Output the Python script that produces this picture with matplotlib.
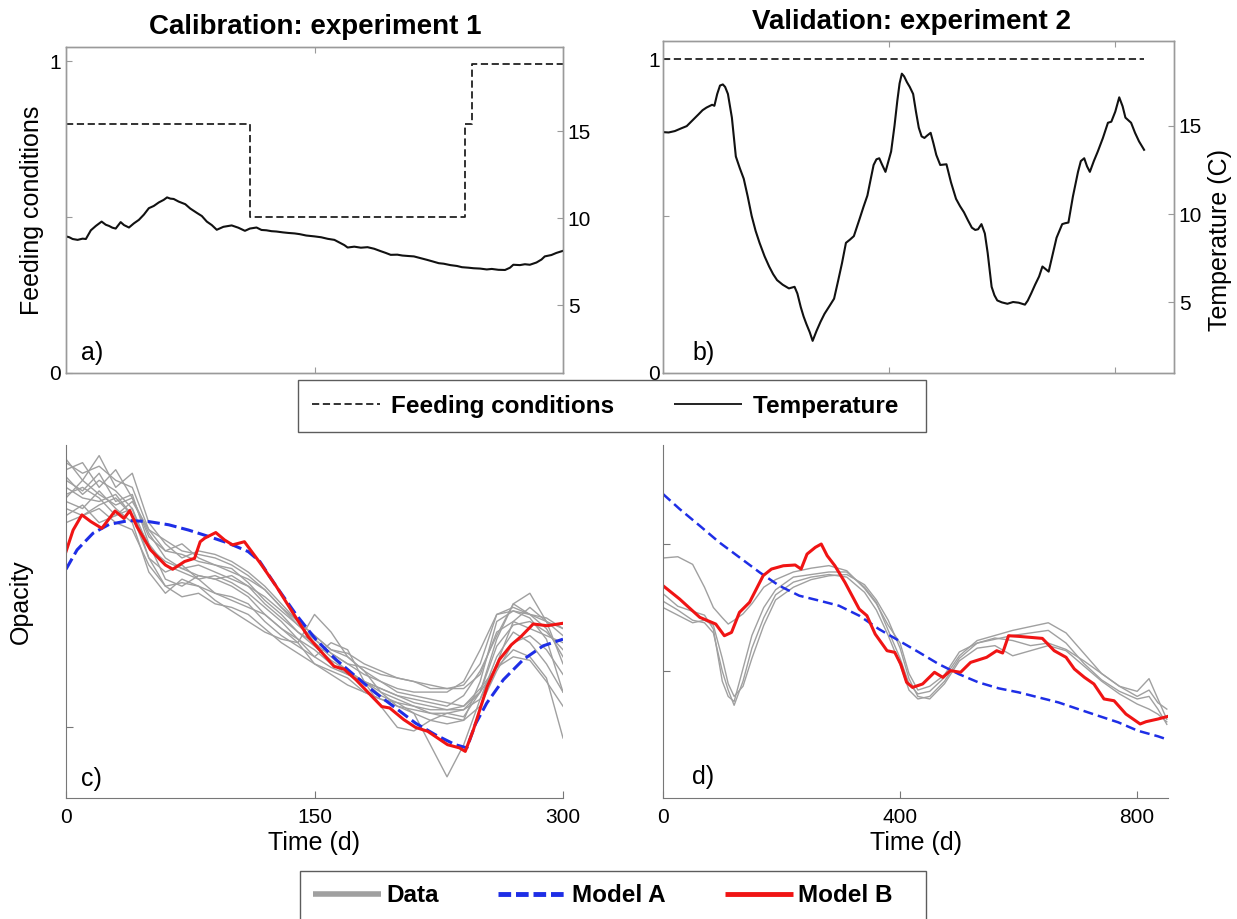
import matplotlib
matplotlib.use("Agg")
import matplotlib.pyplot as plt
from matplotlib.lines import Line2D

plt.rcParams['font.family'] = ['Liberation Sans', 'DejaVu Sans']

# ---------------- data ----------------
# Panel a (calibration, experiment 1)
feed_a_days = [0, 111, 111, 241, 241, 245, 245, 300]
feed_a_vals = [0.80, 0.80, 0.50, 0.50, 0.80, 0.80, 0.99, 0.99]
temp_a_days = [0, 2, 4, 7, 10, 12, 15, 18, 21.5, 24, 26, 28, 30, 33, 35, 38, 41, 44, 47, 50, 53,
               56, 59, 61, 63, 65, 68, 72, 75, 79, 82, 85, 88, 91, 95, 100, 104, 108, 111, 115,
               118, 121, 124, 127, 131, 134, 138, 141, 145, 150, 154, 158, 162, 165, 168, 170,
               174, 178, 182, 186, 190, 193, 196, 200, 203, 207, 210, 214, 218, 221, 225, 228,
               232, 236, 239, 243, 246, 250, 254, 257, 261, 265, 268, 270, 274, 277, 280, 284,
               287, 289, 293, 296, 300]
temp_a_vals = [8.95, 8.9, 8.8, 8.75, 8.82, 8.8, 9.3, 9.55, 9.8, 9.62, 9.55, 9.45, 9.4, 9.77,
               9.6, 9.46, 9.7, 9.9, 10.2, 10.57, 10.7, 10.9, 11.05, 11.19, 11.12, 11.1, 10.95,
               10.8, 10.55, 10.3, 10.12, 9.8, 9.6, 9.33, 9.5, 9.58, 9.45, 9.27, 9.4, 9.46,
               9.32, 9.3, 9.25, 9.23, 9.18, 9.15, 9.12, 9.08, 9.0, 8.95, 8.9, 8.81, 8.75, 8.6,
               8.45, 8.31, 8.36, 8.3, 8.33, 8.24, 8.1, 8.0, 7.89, 7.9, 7.85, 7.82, 7.8, 7.7,
               7.6, 7.52, 7.41, 7.38, 7.3, 7.25, 7.18, 7.15, 7.12, 7.1, 7.05, 7.08, 7.03, 7.02,
               7.15, 7.32, 7.3, 7.35, 7.32, 7.45, 7.62, 7.8, 7.88, 8.0, 8.12]

# Panel b (validation, experiment 2)
feed_b_days = [0, 852]
feed_b_vals = [1.0, 1.0]
temp_b_days = [0, 10, 21, 32, 42, 52, 63, 70, 77, 87, 91, 96, 101, 106, 110, 115, 122, 129, 136,
               143, 150, 157, 164, 171, 180, 188, 195, 202, 212, 223, 233, 238, 244, 249, 254,
               260, 265, 272, 279, 286, 295, 303, 310, 317, 324, 331, 338, 348, 355, 362, 368,
               373, 378, 383, 388, 394, 404, 410, 415, 419, 423, 427, 432, 437, 443, 448, 453,
               458, 463, 468, 474, 479, 484, 491, 502, 510, 519, 526, 533, 540, 547, 553, 558,
               564, 570, 575, 579, 582, 587, 592, 600, 610, 620, 630, 641, 646, 652, 659, 666,
               672, 677, 683, 690, 697, 707, 712, 718, 726, 735, 740, 746, 751, 756, 763, 770,
               779, 788, 794, 801, 808, 814, 819, 829, 836, 843, 852]
temp_b_vals = [14.64, 14.62, 14.7, 14.85, 14.98, 15.3, 15.65, 15.88, 16.03, 16.19, 16.13, 16.8,
               17.28, 17.34, 17.2, 16.8, 15.46, 13.26, 12.6, 12.0, 11.0, 9.9, 9.05, 8.37, 7.6,
               7.03, 6.6, 6.26, 6.0, 5.79, 5.88, 5.5, 4.73, 4.2, 3.77, 3.3, 2.82, 3.39, 3.9,
               4.35, 4.8, 5.21, 6.2, 7.22, 8.37, 8.55, 8.75, 9.71, 10.4, 11.05, 12.0, 12.78,
               13.1, 13.16, 12.8, 12.39, 13.54, 15.0, 16.42, 17.4, 17.95, 17.8, 17.47, 17.2,
               16.8, 15.8, 14.89, 14.4, 14.31, 14.45, 14.6, 14.0, 13.35, 12.78, 12.82, 11.8,
               10.86, 10.45, 10.1, 9.65, 9.23, 9.1, 9.14, 9.43, 8.9, 7.8, 6.7, 5.88, 5.4, 5.11,
               5.0, 4.92, 5.02, 4.98, 4.87, 5.1, 5.5, 6.0, 6.46, 7.03, 6.9, 6.74, 7.7, 8.66,
               9.43, 9.48, 9.52, 11.0, 12.39, 13.0, 13.16, 12.7, 12.39, 13.0, 13.54, 14.3,
               15.17, 15.23, 15.8, 16.61, 16.1, 15.46, 15.17, 14.6, 14.12, 13.64]

# Panel c (opacity, calibration)
c_days = [0, 10, 20, 30, 40, 50, 60, 70, 80, 90, 100, 110, 120, 130, 140, 150, 160, 170, 180,
          190, 200, 210, 220, 230, 240, 250, 260, 270, 280, 290, 300]
c_data = [
    [0.96, 0.90, 0.97, 0.88, 0.92, 0.78, 0.72, 0.68, 0.70, 0.69, 0.67, 0.64, 0.60, 0.55, 0.50, 0.46, 0.42, 0.40, 0.36, 0.33, 0.30, 0.29, 0.28, 0.27, 0.26, 0.30, 0.45, 0.55, 0.52, 0.48, 0.40],
    [0.93, 0.95, 0.88, 0.93, 0.85, 0.74, 0.70, 0.72, 0.68, 0.66, 0.65, 0.61, 0.56, 0.52, 0.47, 0.44, 0.40, 0.36, 0.33, 0.31, 0.29, 0.27, 0.26, 0.25, 0.25, 0.28, 0.38, 0.50, 0.54, 0.50, 0.46],
    [0.90, 0.87, 0.92, 0.84, 0.86, 0.72, 0.62, 0.60, 0.63, 0.62, 0.60, 0.57, 0.52, 0.48, 0.45, 0.42, 0.38, 0.35, 0.33, 0.30, 0.28, 0.26, 0.24, 0.23, 0.22, 0.33, 0.50, 0.53, 0.51, 0.45, 0.30],
    [0.88, 0.85, 0.84, 0.86, 0.80, 0.68, 0.64, 0.66, 0.62, 0.58, 0.56, 0.54, 0.52, 0.48, 0.44, 0.38, 0.36, 0.34, 0.30, 0.28, 0.26, 0.25, 0.24, 0.24, 0.23, 0.30, 0.43, 0.49, 0.50, 0.47, 0.42],
    [0.86, 0.88, 0.85, 0.80, 0.84, 0.76, 0.70, 0.69, 0.67, 0.66, 0.64, 0.62, 0.59, 0.54, 0.49, 0.45, 0.41, 0.38, 0.35, 0.33, 0.31, 0.30, 0.30, 0.30, 0.33, 0.42, 0.52, 0.53, 0.52, 0.50, 0.48],
    [0.84, 0.82, 0.87, 0.82, 0.78, 0.64, 0.58, 0.62, 0.60, 0.56, 0.53, 0.50, 0.47, 0.45, 0.44, 0.52, 0.47, 0.40, 0.36, 0.30, 0.26, 0.24, 0.22, 0.21, 0.22, 0.26, 0.36, 0.44, 0.46, 0.42, 0.35],
    [0.82, 0.80, 0.83, 0.85, 0.80, 0.72, 0.66, 0.64, 0.62, 0.63, 0.61, 0.58, 0.54, 0.50, 0.45, 0.40, 0.37, 0.35, 0.33, 0.29, 0.27, 0.24, 0.15, 0.06, 0.15, 0.28, 0.40, 0.47, 0.44, 0.38, 0.30],
    [0.80, 0.83, 0.78, 0.80, 0.82, 0.68, 0.60, 0.57, 0.58, 0.55, 0.54, 0.52, 0.48, 0.44, 0.41, 0.38, 0.35, 0.32, 0.30, 0.28, 0.27, 0.26, 0.25, 0.25, 0.26, 0.31, 0.37, 0.40, 0.39, 0.33, 0.26],
    [0.78, 0.80, 0.82, 0.78, 0.76, 0.66, 0.60, 0.61, 0.60, 0.58, 0.57, 0.55, 0.50, 0.46, 0.43, 0.40, 0.44, 0.42, 0.33, 0.26, 0.20, 0.19, 0.22, 0.24, 0.25, 0.30, 0.37, 0.42, 0.40, 0.34, 0.17],
    [0.91, 0.86, 0.90, 0.87, 0.82, 0.71, 0.67, 0.65, 0.66, 0.64, 0.62, 0.60, 0.57, 0.53, 0.49, 0.45, 0.41, 0.38, 0.37, 0.35, 0.34, 0.33, 0.32, 0.31, 0.31, 0.35, 0.47, 0.50, 0.48, 0.46, 0.44],
    [0.85, 0.90, 0.86, 0.83, 0.85, 0.75, 0.68, 0.65, 0.63, 0.62, 0.63, 0.60, 0.55, 0.51, 0.47, 0.43, 0.39, 0.36, 0.33, 0.31, 0.29, 0.28, 0.27, 0.26, 0.29, 0.36, 0.46, 0.55, 0.58, 0.50, 0.38],
    [0.95, 0.92, 0.94, 0.90, 0.88, 0.76, 0.73, 0.70, 0.69, 0.68, 0.66, 0.63, 0.59, 0.54, 0.50, 0.46, 0.42, 0.41, 0.38, 0.36, 0.34, 0.33, 0.31, 0.31, 0.32, 0.38, 0.52, 0.54, 0.52, 0.51, 0.48],
]
c_modelA_days = [0, 6.7, 16.3, 26, 38, 50, 62, 74, 86, 98, 110, 117, 127, 139, 151, 163, 175,
                 187, 199, 211, 223, 235, 242, 247, 254, 264, 276, 288, 300]
c_modelA_vals = [0.648, 0.703, 0.750, 0.775, 0.786, 0.783, 0.774, 0.759, 0.741, 0.722, 0.698,
                 0.670, 0.599, 0.519, 0.448, 0.392, 0.344, 0.297, 0.255, 0.212, 0.179, 0.151,
                 0.142, 0.208, 0.269, 0.335, 0.392, 0.431, 0.450]
c_modelB_days = [0, 4.3, 9.6, 15, 21.6, 29.6, 35, 38.5, 42.8, 51, 60, 64.4, 71.6, 77.6, 81, 83.7,
                 90.4, 95.7, 100.5, 107.7, 111.3, 117.3, 127, 136.5, 146, 153, 161.8, 167.8,
                 175, 184.6, 190.6, 195.4, 203.9, 211, 218.3, 224.3, 230.3, 237.5, 241, 245.9,
                 254.3, 261.6, 268.8, 274.8, 282, 290.4, 300]
c_modelB_vals = [0.698, 0.759, 0.802, 0.783, 0.764, 0.813, 0.792, 0.814, 0.769, 0.703, 0.660,
                 0.648, 0.670, 0.679, 0.726, 0.736, 0.752, 0.731, 0.717, 0.726, 0.703, 0.665,
                 0.599, 0.528, 0.458, 0.420, 0.373, 0.365, 0.335, 0.288, 0.259, 0.255, 0.222,
                 0.200, 0.189, 0.170, 0.151, 0.142, 0.132, 0.193, 0.316, 0.392, 0.434, 0.458,
                 0.493, 0.488, 0.495]

# Panel d (opacity, validation)
d_days = [0, 25, 50, 70, 85, 100, 110, 120, 135, 150, 170, 190, 220, 250, 280, 310, 340, 360,
          380, 400, 415, 430, 450, 475, 500, 530, 560, 590, 620, 650, 680, 710, 740, 770, 800,
          820, 835, 850]
d_data = [
    [1.89, 1.90, 1.84, 1.66, 1.50, 1.42, 1.37, 1.40, 1.45, 1.53, 1.66, 1.72, 1.78, 1.81, 1.83, 1.79, 1.65, 1.53, 1.36, 1.22, 0.98, 0.85, 0.88, 0.97, 1.15, 1.22, 1.26, 1.24, 1.20, 1.22, 1.17, 1.08, 0.98, 0.88, 0.80, 0.85, 0.75, 0.70],
    [1.61, 1.51, 1.47, 1.44, 1.33, 0.92, 0.80, 0.76, 1.02, 1.28, 1.50, 1.64, 1.74, 1.76, 1.78, 1.78, 1.66, 1.54, 1.32, 1.10, 0.90, 0.82, 0.84, 0.95, 1.12, 1.24, 1.28, 1.32, 1.35, 1.38, 1.30, 1.14, 0.98, 0.88, 0.84, 0.94, 0.78, 0.62],
    [1.55, 1.48, 1.40, 1.38, 1.30, 1.00, 0.85, 0.73, 0.92, 1.18, 1.42, 1.60, 1.70, 1.74, 1.76, 1.74, 1.62, 1.48, 1.28, 1.05, 0.85, 0.78, 0.80, 0.92, 1.10, 1.22, 1.25, 1.28, 1.30, 1.32, 1.22, 1.06, 0.93, 0.84, 0.78, 0.80, 0.70, 0.58],
    [1.50, 1.44, 1.38, 1.40, 1.36, 1.10, 0.90, 0.80, 0.88, 1.10, 1.36, 1.56, 1.66, 1.72, 1.75, 1.76, 1.68, 1.56, 1.40, 1.18, 0.94, 0.80, 0.78, 0.90, 1.08, 1.18, 1.20, 1.12, 1.16, 1.20, 1.16, 1.04, 0.92, 0.82, 0.74, 0.70, 0.66, 0.60],
]
d_modelA_days = [0, 28, 62, 95, 129, 163, 196, 230, 264, 297, 331, 364, 398, 432, 465, 499, 532,
                 566, 600, 633, 667, 700, 734, 768, 801, 835, 852]
d_modelA_vals = [2.394, 2.276, 2.144, 2.013, 1.895, 1.777, 1.672, 1.593, 1.554, 1.514, 1.436,
                 1.331, 1.239, 1.147, 1.055, 0.976, 0.911, 0.864, 0.832, 0.793, 0.753, 0.701,
                 0.648, 0.596, 0.530, 0.486, 0.459]
d_modelB_days = [0, 28, 62, 89, 103.5, 115.6, 129, 146, 169, 183, 203, 223, 233, 243, 257, 267,
                 277, 290, 307, 331, 344, 358, 378, 391, 401, 411, 421, 438, 458, 472, 485, 502,
                 519, 546, 563, 573, 583, 600, 640, 660, 680, 694, 711, 727, 744, 761, 781, 805,
                 815, 835, 852]
d_modelB_vals = [1.672, 1.567, 1.423, 1.370, 1.278, 1.304, 1.462, 1.541, 1.751, 1.803, 1.829,
                 1.835, 1.803, 1.921, 1.974, 2.000, 1.908, 1.829, 1.698, 1.488, 1.436, 1.291,
                 1.160, 1.147, 1.055, 0.911, 0.871, 0.898, 0.990, 0.950, 1.003, 0.990, 1.068,
                 1.108, 1.160, 1.142, 1.278, 1.273, 1.257, 1.160, 1.108, 1.016, 0.950, 0.898,
                 0.780, 0.766, 0.661, 0.583, 0.601, 0.622, 0.643]

# ---------------- figure ----------------
W, H = 1237, 919
fig = plt.figure(figsize=(W / 100, H / 100), dpi=100)


def fax(l, r, t, b):
    return fig.add_axes([l / W, 1 - b / H, (r - l) / W, (b - t) / H])


BOX = '#9a9a9a'
LAB = 18
TICK = 15
LEGF = 17.5
TITLE = 20


def style_box(ax):
    for s in ax.spines.values():
        s.set_color(BOX)
        s.set_linewidth(1.0)


# Panel a
axa = fax(66, 563, 46.7, 373)
axa.plot(feed_a_days, feed_a_vals, color='#222222', lw=1.3, ls=(0, (4, 2)))
axa.set_xlim(0, 300)
axa.set_ylim(0, 1.047)
axa.set_xticks([150])
axa.set_xticklabels([])
axa.set_yticks([0, 0.5, 1])
axa.set_yticklabels(['0', '', '1'])
axa.tick_params(direction='in', labelsize=TICK, length=4, color=BOX, top=True)
axa.set_ylabel('Feeding conditions', fontsize=LAB, labelpad=4)
style_box(axa)
axa2 = axa.twinx()
axa2.plot(temp_a_days, temp_a_vals, color='#111111', lw=1.5)
axa2.set_ylim(1.1, 19.85)
axa2.set_yticks([5, 10, 15])
axa2.tick_params(direction='in', labelsize=TICK, length=4, color=BOX)
style_box(axa2)
axa.text(0.03, 0.061, 'a)', transform=axa.transAxes, fontsize=LAB, ha='left', va='center')

# Panel b
axb = fax(663, 1174, 41, 373)
axb.plot(feed_b_days, feed_b_vals, color='#222222', lw=1.3, ls=(0, (4, 2)))
axb.set_xlim(0, 905)
axb.set_ylim(0, 1.058)
axb.set_xticks([400, 800])
axb.set_xticklabels([])
axb.set_yticks([0, 0.5, 1])
axb.set_yticklabels(['0', '', '1'])
axb.tick_params(direction='in', labelsize=TICK, length=4, color=BOX, top=True, pad=2)
style_box(axb)
axb2 = axb.twinx()
axb2.plot(temp_b_days, temp_b_vals, color='#111111', lw=1.5)
axb2.set_ylim(1.0, 19.8)
axb2.set_yticks([5, 10, 15])
axb2.tick_params(direction='in', labelsize=TICK, length=4, color=BOX)
axb2.set_ylabel('Temperature (C)', fontsize=LAB)
axb2.yaxis.set_label_coords((1208 - 663) / 511, 0.40)
style_box(axb2)
axb.text(0.057, 0.06, 'b)', transform=axb.transAxes, fontsize=LAB, ha='left', va='center')

fig.text(315 / W, 1 - 27 / H, 'Calibration: experiment 1', fontsize=TITLE, fontweight='bold',
         ha='center', va='center')
fig.text(912 / W, 1 - 22 / H, 'Validation: experiment 2', fontsize=TITLE, fontweight='bold',
         ha='center', va='center')

# Legend 1
h1 = [Line2D([], [], color='#222222', lw=1.3, ls=(0, (4, 2))),
      Line2D([], [], color='#111111', lw=1.3, solid_capstyle='butt')]
leg1 = fig.legend(h1, ['Feeding conditions', 'Temperature  '], loc='center',
                  bbox_to_anchor=(612 / W, 1 - 406 / H), ncol=2, frameon=True,
                  fancybox=False, edgecolor='#333333', handlelength=2.8, handletextpad=0.45,
                  columnspacing=2.45, borderpad=0.6, borderaxespad=0,
                  prop={'size': LEGF, 'weight': 'bold'})
leg1.get_frame().set_linewidth(1.0)

# Panel c
SP = '#777777'
GRAY = '#a0a0a0'
RED = '#f01414'
BLUE = '#1e2ee6'
axc = fax(66, 563, 445, 798)
for row in c_data:
    axc.plot(c_days, row, color=GRAY, lw=1.0)
axc.plot(c_modelA_days, c_modelA_vals, color=BLUE, lw=2.2, ls=(0, (4, 1.6)))
axc.plot(c_modelB_days, c_modelB_vals, color=RED, lw=2.2)
axc.set_xlim(0, 300)
axc.set_ylim(0, 1.0)
axc.set_xticks([0, 150, 300])
axc.set_yticks([0.2])
axc.set_yticklabels([])
axc.set_xlabel('Time (d)', fontsize=LAB, labelpad=3)
axc.set_ylabel('Opacity', fontsize=LAB)
axc.yaxis.set_label_coords((33 - 66) / 497, 0.555)
axc.spines['top'].set_visible(False)
axc.spines['right'].set_visible(False)
for s in ('left', 'bottom'):
    axc.spines[s].set_color(SP)
axc.tick_params(direction='in', labelsize=TICK, length=5, color=SP, pad=7)
axc.text(0.03, 0.054, 'c)', transform=axc.transAxes, fontsize=LAB, ha='left', va='center')

# Panel d
axd = fax(663, 1168, 445, 798)
for row in d_data:
    axd.plot(d_days, row, color=GRAY, lw=1.0)
axd.plot(d_modelA_days, d_modelA_vals, color=BLUE, lw=1.8, ls=(0, (4, 2)))
axd.plot(d_modelB_days, d_modelB_vals, color=RED, lw=2.2)
axd.set_xlim(0, 852)
axd.set_ylim(0, 2.78)
axd.set_xticks([0, 400, 800])
axd.set_yticks([1, 2])
axd.set_yticklabels([])
axd.set_xlabel('Time (d)', fontsize=LAB, labelpad=3)
axd.spines['top'].set_visible(False)
axd.spines['right'].set_visible(False)
for s in ('left', 'bottom'):
    axd.spines[s].set_color(SP)
axd.tick_params(direction='in', labelsize=TICK, length=5, color=SP, pad=7)
axd.text(0.058, 0.06, 'd)', transform=axd.transAxes, fontsize=LAB, ha='left', va='center')

# Legend 2
h2 = [Line2D([], [], color=GRAY, lw=4, solid_capstyle='butt'),
      Line2D([], [], color=BLUE, lw=3.5, ls=(0, (2.6, 1.0)), dash_capstyle='butt'),
      Line2D([], [], color=RED, lw=3.5, solid_capstyle='butt')]
leg2 = fig.legend(h2, ['Data', 'Model A', 'Model B   '], loc='center',
                  bbox_to_anchor=(613 / W, 1 - 896 / H), ncol=3, frameon=True,
                  fancybox=False, edgecolor='#333333', handlelength=2.8, handletextpad=0.22,
                  columnspacing=2.45, borderpad=0.55, borderaxespad=0,
                  prop={'size': LEGF, 'weight': 'bold'})
leg2.get_frame().set_linewidth(1.0)

fig.savefig('out.png', dpi=100)
